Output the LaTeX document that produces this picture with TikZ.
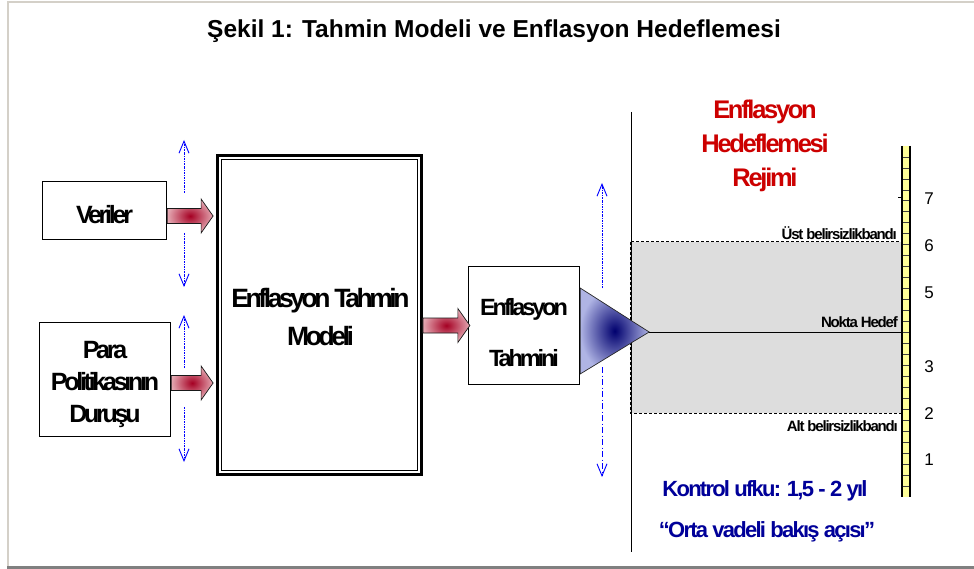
\documentclass[tikz,border=0pt]{standalone}
\usepackage{fontspec}
\setmainfont{Liberation Sans}
\newfontfamily\tightfont[LetterSpace=-13]{Liberation Sans}
\newfontfamily\midtight[LetterSpace=-9]{Liberation Sans}
\newfontfamily\semitight[LetterSpace=-8]{Liberation Sans}
\usetikzlibrary{calc,arrows.meta,shadings}

\definecolor{redtxt}{RGB}{204,0,0}
\definecolor{bluetxt}{RGB}{0,0,153}
\definecolor{framelight}{RGB}{212,208,200}
\definecolor{framedark}{RGB}{128,128,128}
\definecolor{bandgray}{RGB}{221,221,221}
\definecolor{ruleryellow}{RGB}{255,255,153}
\definecolor{arrowdark}{RGB}{165,0,35}
\definecolor{arrowlight}{RGB}{228,168,178}
\definecolor{tridark}{RGB}{0,0,110}
\definecolor{trilight}{RGB}{175,180,228}

\newcommand{\blockarrow}[2]{%
  \shadedraw[redarrow] ($#1+(0,-7.5)$) -- ($#2+(-12,-7.5)$) -- ($#2+(-12,-17)$) -- #2
    -- ($#2+(-12,17)$) -- ($#2+(-12,7.5)$) -- ($#1+(0,7.5)$) -- cycle;}

\begin{document}
\begin{tikzpicture}[x=1pt,y=-1pt,
  box/.style={draw=black, line width=1.6pt, fill=white, inner sep=0pt},
  boxtext/.style={align=center, inner sep=0pt, font=\tightfont\bfseries\fontsize{25}{32}\selectfont},
  redarrow/.style={draw=black!90, line width=0.7pt, inner color=arrowdark, outer color=arrowlight},
  bluedash/.style={blue, line width=0.9pt, dash pattern=on 2pt off 1pt on 0.7pt off 1pt,
    -{Straight Barb[length=12pt,width=10pt]}},
  bluedashdot/.style={blue, line width=0.9pt, dash pattern=on 6pt off 2.5pt on 1pt off 2.5pt,
    -{Straight Barb[length=12pt,width=10pt]}},
  smalllbl/.style={font=\semitight\bfseries\fontsize{15}{15}\selectfont, anchor=base east, inner sep=0pt},
  num/.style={font=\fontsize{17}{17}\selectfont, inner sep=0pt}
]
\useasboundingbox (0,0) rectangle (974,569);
\fill[white] (0,0) rectangle (974,569);
% frame
\draw[framelight, line width=2pt] (8,570) -- (8,2) -- (975,2);
\draw[framedark, line width=2.5pt] (7,567.5) -- (975,567.5);

% title
\node[font=\bfseries\fontsize{24.5}{28}\selectfont] (title) at (494,31) {Şekil 1: Tahmin Modeli ve Enflasyon Hedeflemesi};

% left boxes
\node[box, minimum width=124pt, minimum height=58pt] (ver) at (104.5,210.5) {};
\node[boxtext] (vertxt) at ($(ver.center)+(0,4)$) {Veriler};
\node[box, minimum width=131pt, minimum height=114pt] (para) at (105,379.5) {};
\node[boxtext] (paratxt) at ($(para.center)+(0,4.5)$) {Para\\Politikasının\\Duruşu};

% model box
\node[box, line width=2.8pt, minimum width=204pt, minimum height=319pt] (mod) at (319.5,315) {};
\draw[line width=0.9pt] ($(mod.north west)+(5,5)$) rectangle ($(mod.south east)+(-5,-5)$);
\node[boxtext, font=\tightfont\bfseries\fontsize{26.5}{38}\selectfont] (modtxt) at ($(mod.center)+(1,2.5)$) {Enflasyon Tahmin\\Modeli};

% forecast box
\node[box, line width=1.3pt, minimum width=111pt, minimum height=118pt] (tah) at (524,325.5) {};
\node[boxtext, font=\tightfont\bfseries\fontsize{23.5}{51}\selectfont] (tahtxt) at ($(tah.center)+(0,7)$) {Enflasyon\\Tahmini};

% blue dashed double arrows
\coordinate (u1s) at (184,193); \coordinate (u1e) at (184,140);
\coordinate (d1s) at (184,233); \coordinate (d1e) at (184,287);
\coordinate (u2s) at (184,368); \coordinate (u2e) at (184,315);
\coordinate (d2s) at (184,407); \coordinate (d2e) at (184,462);
\coordinate (u3s) at (602,288); \coordinate (u3e) at (602,183);
\coordinate (d3s) at (602,367); \coordinate (d3e) at (602,477);
\draw[bluedash] (u1s) -- (u1e);
\draw[bluedash] (d1s) -- (d1e);
\draw[bluedash] (u2s) -- (u2e);
\draw[bluedash] (d2s) -- (d2e);
\draw[bluedash] (u3s) -- (u3e);
\draw[bluedashdot] (d3s) -- (d3e);

% red block arrows
\coordinate (a1s) at ($(ver.east)+(0,5.5)$);
\coordinate (a1t) at ($(a1s -| mod.west)+(-3,0)$);
\blockarrow{(a1s)}{(a1t)}
\coordinate (a2s) at ($(para.east)+(0,3.5)$);
\coordinate (a2t) at ($(a2s -| mod.west)+(-3,0)$);
\blockarrow{(a2s)}{(a2t)}
\coordinate (a3s) at (tah.west -| mod.east);
\coordinate (a3t) at ($(tah.west)+(2,0)$);
\blockarrow{(a3s)}{(a3t)}

% uncertainty band
\filldraw[fill=bandgray, draw=black, line width=1pt, dash pattern=on 3pt off 2pt] (630,242) rectangle (901,413);
% vertical divider
\draw[line width=0.8pt] (631,112) -- (631,552);

% ruler
\node[fill=ruleryellow, minimum width=8pt, minimum height=351pt, inner sep=0pt, outer sep=0pt] (ruler) at (906,321.5) {};
\foreach \i in {1,...,31}
  \draw[black!75, line width=0.7pt] ($(ruler.north west)+(0,\i*10.97)$) -- ++(8,0);
\draw[line width=2pt] (ruler.north west) -- (ruler.south west);
\draw[line width=2pt] (ruler.north east) -- (ruler.south east);
\draw[line width=0.6pt] ($(ruler.north west)+(-4,51)$) -- ++(4,0);

% triangle (forecast spread)
\coordinate (tip) at ($(tah.east)+(69,6.5)$);
\shadedraw[inner color=tridark, outer color=trilight, draw=black!85, line width=0.7pt]
  ($(tah.east)+(0,-37.5)$) -- ($(tah.east)+(0,48.5)$) -- (tip) -- cycle;
% point target line
\draw[line width=0.8pt] (tip) -- (tip -| ruler.west);

% labels
\node[smalllbl] (ust) at (897,240) {Üst belirsizlikbandı};
\node[smalllbl] (nokta) at (898,327.5) {Nokta Hedef};
\node[smalllbl] (alt) at (898,431.5) {Alt belirsizlikbandı};

\node[num] (n7) at (929,199) {7};
\node[num] (n6) at (929,246) {6};
\node[num] (n5) at (929,293) {5};
\node[num] (n3) at (929,367) {3};
\node[num] (n2) at (929,414) {2};
\node[num] (n1) at (929,460) {1};

% regime text
\node[align=center, text=redtxt, font=\midtight\bfseries\fontsize{25.5}{34}\selectfont] (regime) at (765,145.5) {Enflasyon\\Hedeflemesi\\Rejimi};

% horizon texts
\node[text=bluetxt, font=\semitight\bfseries\fontsize{22}{22}\selectfont] (ufuk) at (765,491) {Kontrol ufku: 1,5 - 2 yıl};
\node[text=bluetxt, font=\semitight\bfseries\fontsize{22}{22}\selectfont] (bakis) at (767,532) {“Orta vadeli bakış açısı”};
\end{tikzpicture}
\end{document}
